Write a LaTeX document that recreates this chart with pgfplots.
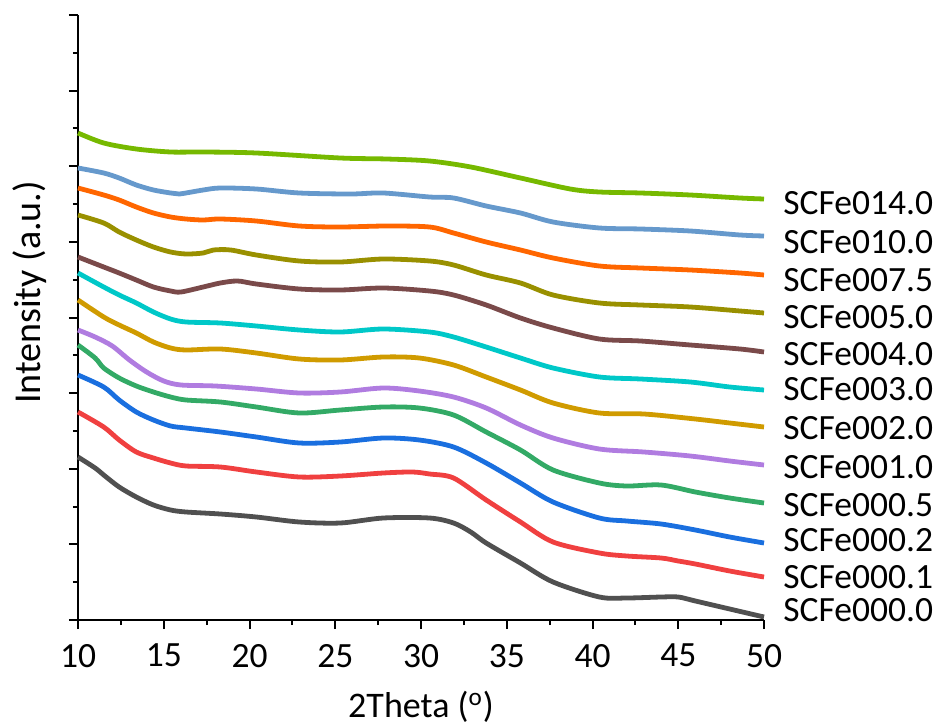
\documentclass[border=0pt]{standalone}
\usepackage{fontspec}
\setmainfont{Carlito}
\usepackage{pgfplots}
\pgfplotsset{compat=1.18}
\definecolor{cA}{HTML}{76B900}
\definecolor{cB}{HTML}{6699CC}
\definecolor{cC}{HTML}{FF6600}
\definecolor{cD}{HTML}{999000}
\definecolor{cE}{HTML}{7A4A4A}
\definecolor{cF}{HTML}{00C8C8}
\definecolor{cG}{HTML}{D09B00}
\definecolor{cH}{HTML}{B07CE0}
\definecolor{cI}{HTML}{33AA66}
\definecolor{cJ}{HTML}{1A6FDF}
\definecolor{cK}{HTML}{F04040}
\definecolor{cL}{HTML}{505050}
\begin{document}
\begin{tikzpicture}[font=\fontsize{17.75}{21}\selectfont]
\begin{axis}[
  at={(0,0)}, anchor=south west,
  scale only axis, width=343pt, height=302.5pt,
  xmin=10, xmax=50, ymin=0, ymax=605,
  axis lines=left, axis line style={-, line width=1pt},
  xtick={10,15,...,50}, minor x tick num=1,
  ytick={0,75.625,151.25,226.875,302.5,378.125,453.75,529.375,605},
  minor y tick num=1,
  yticklabels={},
  tick align=outside, tick style={line width=1pt, black},
  major tick length=4.5pt, minor tick length=2.5pt,
  /pgf/number format/assume math mode=true,
  xticklabel style={font=\fontsize{17.75}{21}\selectfont, yshift=-4pt},
  xlabel={2Theta (\textsuperscript{o})},
  ylabel={Intensity (a.u.)},
  xlabel style={font=\fontsize{18}{21}\selectfont, at={(axis description cs:0.5,0)}, anchor=center, yshift=-43.5pt},
  ylabel style={font=\fontsize{19}{22}\selectfont, at={(axis description cs:0,0.5)}, anchor=center, xshift=12.5pt, yshift=24pt},
  clip=false,
  every axis plot/.append style={line width=2.4pt, smooth},
]
% SCFe000.0
\addplot[cL] coordinates {(10,163)(11,152)(11.5,145)(12.4,133)(13.4,123)(14.4,115)(15.4,110)(16.3,108)(18.3,106)(20.4,103)(22.9,98)(25.3,97)(27.8,102)(30.5,102)(31.9,97)(32.9,88)(33.8,77)(35.8,57)(37.7,38)(40.4,23)(42,22)(44,23)(45,23)(46,19)(48,11)(50,3)};
% SCFe000.1
\addplot[cK] coordinates {(10,208)(11.5,193)(12.4,180)(13.4,168)(14.4,162)(15.4,157)(16.3,154)(18.3,153)(20.4,148)(22.9,143)(25.3,144)(27.8,147)(29.5,148)(30.5,146)(31.9,142)(33.8,120)(35.8,98)(37.7,78)(40.4,67)(42,64)(44,62)(45,59)(46,56)(48,49)(50,43)};
% SCFe000.2
\addplot[cJ] coordinates {(10,245)(11.5,233)(12.4,220)(13.4,208)(14.4,200)(15.4,194)(16.3,192)(18.3,188)(20.4,183)(22.9,177)(25.3,178)(27.8,182)(29.9,180)(31.9,173)(33.8,157)(35.8,137)(37.7,118)(40.4,102)(42,99)(44,96)(46,90)(48,83)(50,77)};
% SCFe000.5
\addplot[cI] coordinates {(10,275)(11,262)(11.5,252)(12.4,242)(13.4,234)(14.4,228)(15.4,223)(16.3,220)(18.3,218)(20.4,213)(22.9,207)(25.3,210)(27.8,213)(29.9,212)(31.9,205)(33.8,188)(35.8,170)(37.7,150)(40.4,137)(42,134)(44,135)(46,128)(48,122)(50,117)};
% SCFe001.0
\addplot[cH] coordinates {(10,290)(11,283)(12,274)(13,260)(14,248)(15,239)(16,235)(18,234)(20.4,231)(22.9,227)(25.3,228)(27.8,232)(29.9,229)(31.9,223)(33.8,212)(35.8,195)(37.7,182)(40.4,171)(43,168)(45.7,164)(48,159)(50,155)};
% SCFe002.0
\addplot[cG] coordinates {(10,320)(11.5,303)(12.4,295)(13.4,287)(14.4,278)(15.4,272)(16.3,270)(18.3,271)(20.4,267)(22.9,261)(25.3,260)(27.8,263)(29.9,262)(31.9,255)(33.8,243)(35.8,230)(37.7,217)(40.4,207)(43,206)(46,201)(48,197)(50,193)};
% SCFe003.0
\addplot[cF] coordinates {(10,347)(11.5,333)(12.4,325)(13.4,317)(14.4,308)(15.4,301)(16.3,298)(18.3,297)(20.4,294)(22.9,290)(25.3,288)(27.8,291)(30.5,288)(31.9,283)(33.8,273)(35.8,262)(37.7,252)(40.4,243)(42.8,241)(45.7,238)(48,233)(50,230)};
% SCFe004.0
\addplot[cE] coordinates {(10,363)(11.5,353)(12.4,347)(13.4,340)(14.4,333)(15.4,329)(16,328)(17.3,333)(18.3,337)(19.3,339)(20.4,336)(22.9,331)(25.3,330)(27.8,332)(30.5,329)(31.9,325)(33.8,315)(35.8,302)(37.7,292)(40.4,281)(42.8,279)(45.7,275)(48.6,271)(50,268)};
% SCFe005.0
\addplot[cD] coordinates {(10,405)(11.5,397)(12.4,388)(13.4,380)(14.4,373)(15.4,368)(16.3,366)(17.3,367)(17.9,370)(18.9,370)(20.4,365)(22.9,359)(25.3,358)(27.8,361)(30.5,359)(31.9,355)(33.8,345)(35.8,337)(37.7,325)(40.4,317)(42.8,315)(45.7,313)(48.6,309)(50,307)};
% SCFe007.5
\addplot[cC] coordinates {(10,432)(11.5,425)(12.4,420)(13.4,413)(14.4,407)(15.4,403)(16.3,401)(17.3,400)(18.3,401)(20.4,399)(22.9,394)(25.3,393)(28,394)(30.5,393)(31.9,387)(33.8,378)(35.8,370)(37.7,362)(40.4,354)(42.8,352)(45.7,350)(48.6,347)(50,345)};
% SCFe010.0
\addplot[cB] coordinates {(10,452)(11.5,447)(12.4,442)(13.4,435)(14.4,430)(15.4,427)(15.9,426)(17.3,430)(18.3,432)(20.4,431)(22.9,427)(25.9,426)(27.8,427)(30.5,423)(31.9,422)(33.8,414)(35.8,407)(37.7,398)(40.4,392)(42.8,391)(45.7,389)(48.6,385)(50,384)};
% SCFe014.0
\addplot[cA] coordinates {(10,487)(11.5,477)(13.4,471)(15.4,468)(17.3,468)(20.4,467)(25.3,462)(28,461)(30.5,459)(32.9,453)(35.8,442)(38.7,431)(40.4,428)(42.8,427)(45.7,425)(48.6,422)(50,421)};
\begin{scope}[every node/.style={anchor=west, inner sep=0pt, xshift=9.5pt}]
\node at (axis cs:50,417) {SCFe014.0};
\node at (axis cs:50,378) {SCFe010.0};
\node at (axis cs:50,340) {SCFe007.5};
\node at (axis cs:50,303) {SCFe005.0};
\node at (axis cs:50,266) {SCFe004.0};
\node at (axis cs:50,231) {SCFe003.0};
\node at (axis cs:50,192) {SCFe002.0};
\node at (axis cs:50,153) {SCFe001.0};
\node at (axis cs:50,115) {SCFe000.5};
\node at (axis cs:50,80) {SCFe000.2};
\node at (axis cs:50,43) {SCFe000.1};
\node at (axis cs:50,10) {SCFe000.0};
\end{scope}
\end{axis}
\pgfresetboundingbox
\path (-39pt,-52pt) rectangle (429pt,310pt);
\end{tikzpicture}
\end{document}
